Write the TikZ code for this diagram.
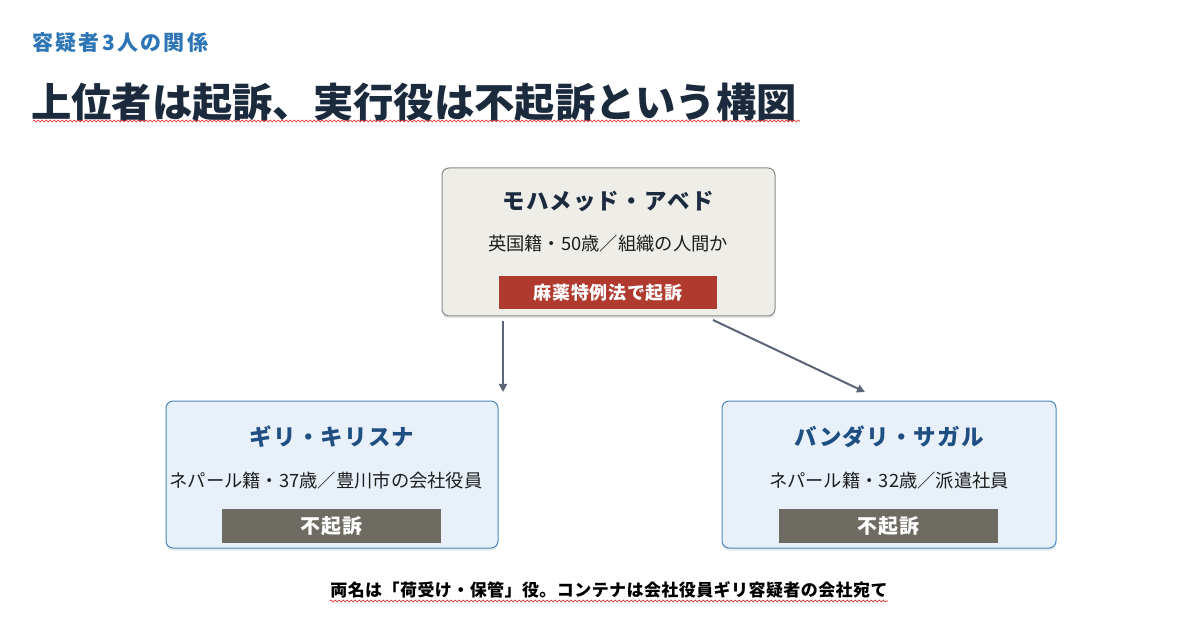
\documentclass[tikz,border=0pt]{standalone}
\usepackage{fontspec}
\setmainfont{Noto Sans CJK JP}
\usetikzlibrary{calc,shadows,decorations.pathmorphing,arrows.meta}
\definecolor{subblue}{HTML}{2E75B6}
\definecolor{navy}{HTML}{1C2A3E}
\definecolor{nameblue}{HTML}{1F4F82}
\definecolor{topfill}{HTML}{EEEDE7}
\definecolor{topdraw}{HTML}{8A8A88}
\definecolor{bluefill}{HTML}{E8F1FA}
\definecolor{bluedraw}{HTML}{4A86C0}
\definecolor{redtag}{HTML}{B03A2E}
\definecolor{graytag}{HTML}{6E6B63}
\definecolor{arrowc}{HTML}{5B6577}
\definecolor{txt}{HTML}{1E1E1E}
\definecolor{wavy}{HTML}{E03030}
\tikzset{
  card/.style={rounded corners=7pt, line width=1pt, inner sep=0pt, outer sep=0pt, anchor=north west,
    drop shadow={opacity=0.18, shadow xshift=0pt, shadow yshift=-2.5pt}},
  topcard/.style={card, fill=topfill, draw=topdraw},
  bluecard/.style={card, fill=bluefill, draw=bluedraw},
  tag/.style={inner sep=0pt, anchor=north west},
  tagtext/.style={text=white, font=\bfseries\fontsize{18}{21}\selectfont\addfontfeature{LetterSpace=4}},
  notext/.style={text=white, font=\bfseries\fontsize{20}{23}\selectfont\addfontfeature{LetterSpace=5}},
  cardname/.style={font=\bfseries\fontsize{22.5}{26}\selectfont\addfontfeature{LetterSpace=5}},
  info/.style={font=\fontsize{18.3}{22}\selectfont, text=txt},
  arr/.style={draw=arrowc, line width=2pt, -{Triangle[length=8pt,width=8pt]}},
  squiggle/.style={draw=wavy, line width=0.7pt, decorate, decoration={snake, segment length=4pt, amplitude=0.9pt}}
}
\begin{document}
\begin{tikzpicture}[x=1pt,y=-1pt]
\path[use as bounding box, fill=white] (0,0) rectangle (1200,644);
% headings
\node[anchor=west, text=subblue, font=\bfseries\fontsize{21}{24}\selectfont\addfontfeature{LetterSpace=11}, inner sep=0pt] (sub) at (32,43) {容疑者3人の関係};
\node[anchor=west, text=navy, font=\bfseries\fontsize{40.3}{44}\selectfont, inner sep=0pt] (title) at (31,103) {上位者は起訴、実行役は不起訴という構図};
\draw[squiggle] (33,121) -- (800,121);
% top card
\node[topcard, minimum width=333pt, minimum height=148pt] (top) at (442,168) {};
\node[cardname, text=navy] (topname) at (608,202) {モハメッド・アベド};
\node[info] (topinfo) at (608,244) {英国籍・50歳／組織の人間か};
\node[tag, fill=redtag, minimum width=218pt, minimum height=33pt] (toptag) at (499,276) {};
\node[tagtext] (toptagtxt) at (toptag.center) {麻薬特例法で起訴};
% left card
\node[bluecard, minimum width=332pt, minimum height=147pt] (left) at (166,401) {};
\node[cardname, text=nameblue] (leftname) at (332,437) {ギリ・キリスナ};
\node[info] (leftinfo) at (326,481) {ネパール籍・37歳／豊川市の会社役員};
\node[tag, fill=graytag, minimum width=219pt, minimum height=34pt] (lefttag) at (222,509) {};
\node[notext] (lefttagtxt) at (lefttag.center) {不起訴};
% right card
\node[bluecard, minimum width=334pt, minimum height=147pt] (right) at (722,401) {};
\node[cardname, text=nameblue] (rightname) at (889,437) {バンダリ・サガル};
\node[info] (rightinfo) at (889,481) {ネパール籍・32歳／派遣社員};
\node[tag, fill=graytag, minimum width=219pt, minimum height=34pt] (righttag) at (779,509) {};
\node[notext] (righttagtxt) at (righttag.center) {不起訴};
% arrows
\coordinate (a1) at ($(top.south west)+(61,5)$);
\coordinate (b1) at ($(left.north east)+(5,-9)$);
\draw[arr] (a1) -- (a1 |- b1);
\draw[arr] ($(top.south east)+(-62,4)$) -- ($(right.north west)+(143,-9)$);
% footnote
\node[font=\bfseries\fontsize{17}{20}\selectfont\addfontfeature{LetterSpace=2.5}, text=black] (foot) at (609,590) {両名は「荷受け・保管」役。コンテナは会社役員ギリ容疑者の会社宛て};
\draw[squiggle] (330,601) -- (888,601);
\end{tikzpicture}
\end{document}
